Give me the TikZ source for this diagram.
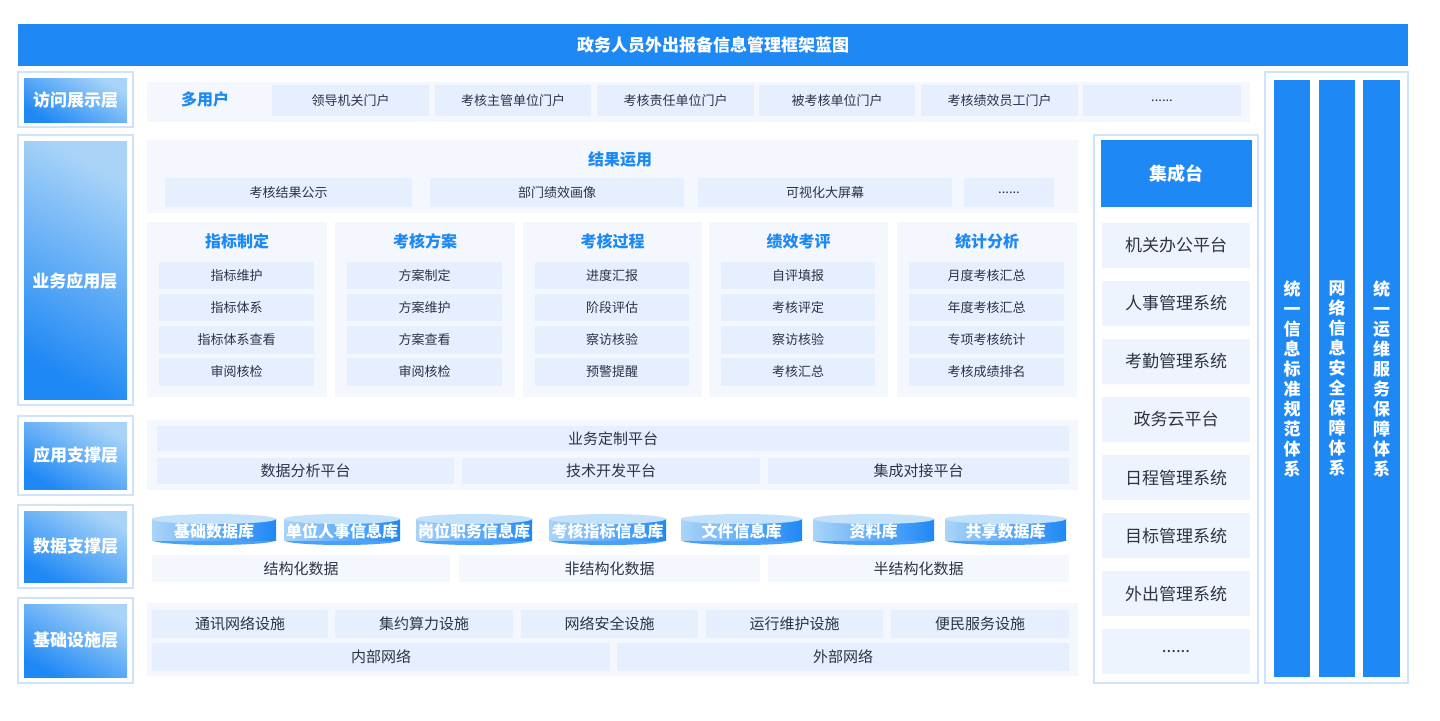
\documentclass[tikz,border=0pt]{standalone}
\usepackage{fontspec}
\setmainfont{Noto Sans CJK SC}
\usetikzlibrary{shapes.geometric}
\definecolor{mblue}{HTML}{1E88F5}
\definecolor{lblue}{HTML}{A9D4F8}
\definecolor{pan}{HTML}{F4F8FE}
\definecolor{cel}{HTML}{E5EFFD}
\definecolor{obord}{HTML}{CFE3FA}
\definecolor{txt}{HTML}{2B3445}
\newcommand\bx[7]{\node[#6, minimum width={((#3)-(#1))*0.5pt}, minimum height={((#4)-(#2))*0.5pt}, inner sep=0pt, anchor=center] (#7) at ({((#1)+(#3))/2},{((#2)+(#4))/2}) {#5};}
\newcommand\cyl[5]{%
 \node[ellipse,fill=mblue!80,minimum width={(#3-#1)*0.5pt},minimum height=5pt,inner sep=0pt] at ({(#1+#3)/2},540) {};
 \fill[left color=lblue,right color=mblue] (#1,#2+4) rectangle (#3,540);
 \node[ellipse,fill=lblue!70,minimum width={(#3-#1)*0.5pt},minimum height=5pt,inner sep=0pt] at ({(#1+#3)/2},#2+4) {};
 \node[text=white,font=\fontsize{8}{9}\selectfont\bfseries,inner sep=0pt] (#4) at ({(#1+#3)/2},531) {#5};}
\tikzset{
 panel/.style={fill=pan},
 cell/.style={fill=cel,text=txt,font=\fontsize{6.5}{8}\selectfont},
 cellb/.style={fill=cel,text=txt,font=\fontsize{7.5}{9}\selectfont},
 rowp/.style={fill=pan,text=txt,font=\fontsize{7.5}{9}\selectfont},
 outer/.style={draw=obord,line width=0.8pt,fill=white},
 lab/.style={left color=lblue,right color=mblue,shading angle=-30,text=white,font=\fontsize{8.5}{10}\selectfont\bfseries},
 ctitle/.style={text=mblue,font=\fontsize{8}{10}\selectfont\bfseries},
 item/.style={fill=pan!60!cel,text=txt,font=\fontsize{8.5}{10}\selectfont},
 vbar/.style={fill=mblue,text=white,font=\fontsize{8.5}{10}\selectfont\bfseries,align=center}
}
\begin{document}
\begin{tikzpicture}[x=0.5pt,y=-0.5pt]
\useasboundingbox[fill=white] (0,0) rectangle (1440,720);
\bx{18}{24}{1408}{66}{政务人员外出报备信息管理框架蓝图}{fill=mblue,text=white,font=\fontsize{8.5}{10}\selectfont\bfseries}{title}
% layer labels
\bx{18}{72}{133}{127}{}{outer}{o1}\bx{24}{78}{127}{122}{访问展示层}{lab}{l1}
\bx{18}{135}{133}{405}{}{outer}{o2}\bx{24}{141}{127}{399}{}{lab}{l2}
\node[text=white,font=\fontsize{8.5}{10}\selectfont\bfseries] (l2t) at (75,281) {业务应用层};
\bx{18}{416}{133}{495}{}{outer}{o3}\bx{24}{422}{127}{489}{应用支撑层}{lab}{l3}
\bx{18}{505}{133}{588}{}{outer}{o4}\bx{24}{511}{127}{582}{数据支撑层}{lab}{l4}
\bx{18}{598}{133}{683}{}{outer}{o5}\bx{24}{604}{127}{677}{基础设施层}{lab}{l5}
% access
\bx{147}{82}{1250}{122}{}{panel}{p1}
\node[ctitle] (mu) at (205,99) {多用户};
\bx{272}{85}{429}{116}{领导机关门户}{cell}{a1}
\bx{435}{85}{591}{116}{考核主管单位门户}{cell}{a2}
\bx{597}{85}{754}{116}{考核责任单位门户}{cell}{a3}
\bx{759}{85}{915}{116}{被考核单位门户}{cell}{a4}
\bx{921}{85}{1078}{116}{考核绩效员工门户}{cell}{a5}
\bx{1083}{85}{1241}{116}{......}{cell}{a6}
% results
\bx{147}{140}{1078}{213}{}{panel}{p2}
\node[ctitle] (rt) at (620,159) {结果运用};
\bx{165}{178}{412}{207}{考核结果公示}{cell}{r1}
\bx{430}{178}{684}{207}{部门绩效画像}{cell}{r2}
\bx{698}{178}{952}{207}{可视化大屏幕}{cell}{r3}
\bx{964}{178}{1054}{207}{......}{cell}{r4}
% five columns
\foreach \xa/\xb/\t/\ia/\ib/\ic/\id [count=\i] in {
 147/327/指标制定/指标维护/指标体系/指标体系查看/审阅核检,
 335/515/考核方案/方案制定/方案维护/方案查看/审阅核检,
 523/702/考核过程/进度汇报/阶段评估/察访核验/预警提醒,
 709/888/绩效考评/自评填报/考核评定/察访核验/考核汇总,
 897/1077/统计分析/月度考核汇总/年度考核汇总/专项考核统计/考核成绩排名}{
 \bx{\xa}{222}{\xb}{397}{}{panel}{c\i}
 \node[ctitle] (ct\i) at ({(\xa+\xb)/2},241) {\t};
 \bx{\xa+12}{262}{\xb-13}{289}{\ia}{cell}{ca\i}
 \bx{\xa+12}{294}{\xb-13}{321}{\ib}{cell}{cb\i}
 \bx{\xa+12}{326}{\xb-13}{354}{\ic}{cell}{cc\i}
 \bx{\xa+12}{358}{\xb-13}{386}{\id}{cell}{cd\i}
}
% app support
\bx{147}{420}{1078}{490}{}{panel}{p3}
\bx{157}{426}{1069}{451}{业务定制平台}{cellb}{s1}
\bx{157}{458}{454}{484}{数据分析平台}{cellb}{s2}
\bx{462}{458}{760}{484}{技术开发平台}{cellb}{s3}
\bx{768}{458}{1069}{484}{集成对接平台}{cellb}{s4}
% data
\cyl{152}{515}{276}{d1}{基础数据库}
\cyl{284}{515}{400}{d2}{单位人事信息库}
\cyl{416}{515}{532}{d3}{岗位职务信息库}
\cyl{549}{515}{666}{d4}{考核指标信息库}
\cyl{681}{515}{802}{d5}{文件信息库}
\cyl{813}{515}{934}{d6}{资料库}
\cyl{945}{515}{1066}{d7}{共享数据库}
\bx{152}{555}{450}{582}{结构化数据}{rowp}{t1}
\bx{459}{555}{760}{582}{非结构化数据}{rowp}{t2}
\bx{768}{555}{1069}{582}{半结构化数据}{rowp}{t3}
% infra
\bx{147}{603}{1078}{676}{}{panel}{p5}
\bx{152}{610}{328}{638}{通讯网络设施}{cellb}{f1}
\bx{335}{610}{513}{638}{集约算力设施}{cellb}{f2}
\bx{521}{610}{698}{638}{网络安全设施}{cellb}{f3}
\bx{706}{610}{883}{638}{运行维护设施}{cellb}{f4}
\bx{891}{610}{1069}{638}{便民服务设施}{cellb}{f5}
\bx{152}{643}{610}{671}{内部网络}{cellb}{n1}
\bx{617}{643}{1069}{671}{外部网络}{cellb}{n2}
% integration
\bx{1094}{135}{1258}{683}{}{outer}{ig}
\bx{1101}{140}{1252}{207}{集成台}{fill=mblue,text=white,font=\fontsize{9}{11}\selectfont\bfseries}{igt}
\foreach \y/\t [count=\i] in {223/机关办公平台,281/人事管理系统,339/考勤管理系统,397/政务云平台,455/日程管理系统,513/目标管理系统,571/外出管理系统,629/{......}}{
 \bx{1102}{\y}{1250}{\y+45}{\t}{item}{it\i}
}
% right bars
\bx{1265}{72}{1408}{683}{}{outer}{rb}
\bx{1274}{80}{1310}{677}{统\\一\\信\\息\\标\\准\\规\\范\\体\\系}{vbar}{v1}
\bx{1319}{80}{1355}{677}{网\\络\\信\\息\\安\\全\\保\\障\\体\\系}{vbar}{v2}
\bx{1363}{80}{1400}{677}{统\\一\\运\\维\\服\\务\\保\\障\\体\\系}{vbar}{v3}
\end{tikzpicture}
\end{document}
